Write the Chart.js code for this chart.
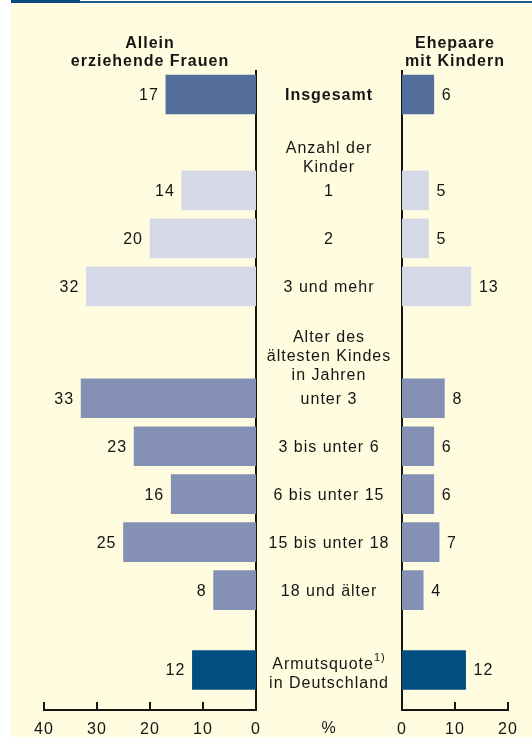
<!DOCTYPE html>
<html lang="de">
<head>
<meta charset="utf-8">
<title>Armutsquoten von Familien</title>
<script src="https://cdn.jsdelivr.net/npm/chart.js@4.4.1/dist/chart.umd.min.js"></script>
<style>
  html, body { margin: 0; padding: 0; background: #fff; overflow: hidden; }
  #seite { position: relative; width: 532px; height: 737px; overflow: hidden; }
  #flaeche { position: absolute; left: 11px; top: 4px; right: 0; bottom: 0; background: #fffcdf; }
  #balken { position: absolute; left: 11px; top: 0; width: 69px; height: 3px; background: #0b4b7b; }
  #linie { position: absolute; left: 80px; top: 1px; right: 0; height: 2px; background: #1d5886; }
  canvas { position: absolute; top: 0; }
  #links { left: 0; }
  #rechts { left: 250px; }
</style>
</head>
<body>
<div id="seite">
  <div id="flaeche"></div>
  <div id="balken"></div>
  <div id="linie"></div>
  <canvas id="links" width="280" height="751"></canvas>
  <canvas id="rechts" width="282" height="751"></canvas>
</div>
<script>
// Daten
const kategorien = ["Insgesamt", "1", "2", "3 und mehr", "unter 3", "3 bis unter 6",
                    "6 bis unter 15", "15 bis unter 18", "18 und älter", "Armutsquote\nin Deutschland"];
const gruppen = ["gesamt", "kinder", "kinder", "kinder", "alter", "alter", "alter", "alter", "alter", "armut"];
const alleinErziehende = [17, 14, 20, 32, 33, 23, 16, 25, 8, 12];
const ehepaare = [6, 5, 5, 13, 8, 6, 6, 7, 4, 12];
const ueberschriften = ["", "Anzahl der\nKinder", "", "", "Alter des\nältesten Kindes\nin Jahren", "", "", "", "", ""];
const fussnoten = ["", "", "", "", "", "", "", "", "", "1)"];
const skalaLinks = [0, 10, 20, 30, 40];
const skalaRechts = [0, 10, 20];

// leere Zeilen vor jeder Kategorie (und am Ende)
const leerzeilen = [1, 5, 2, 2, 6, 2, 2, 2, 2, 4, 2];

const FONT = '"Liberation Sans", Arial, sans-serif';
const TEXT = "#151515";
const farben = { gesamt: "#536e9a", kinder: "#d5d8e6", alter: "#8491b4", armut: "#034e81" };
const MITTE = 73;
const TICK_ABSTAND = 10;

const achse = [];
const zeileIndex = [];
kategorien.forEach((k, i) => {
    for (let j = 0; j < leerzeilen[i]; j++) achse.push("");
    zeileIndex.push(achse.length);
    achse.push(k);
});
for (let j = 0; j < leerzeilen[kategorien.length]; j++) achse.push("");

function aufAchse(werte) {
    const out = achse.map(() => null);
    werte.forEach((v, i) => { out[zeileIndex[i]] = v; });
    return out;
}
const balkenFarben = aufAchse(gruppen.map(g => farben[g]));

const abstand = {
    id: "abstand",
    beforeDraw(chart) { chart.ctx.letterSpacing = "1px"; }
};

const teilstriche = {
    id: "teilstriche",
    afterDraw(chart) {
        const x = chart.scales.x, ctx = chart.ctx, yb = chart.chartArea.bottom;
        ctx.save();
        ctx.strokeStyle = TEXT;
        ctx.lineWidth = 2;
        x.ticks.forEach(t => {
            const px = Math.round(x.getPixelForValue(t.value));
            ctx.beginPath();
            ctx.moveTo(px, yb);
            ctx.lineTo(px, yb - 8);
            ctx.stroke();
        });
        ctx.restore();
    }
};

const wertLabels = {
    id: "wertLabels",
    afterDatasetsDraw(chart) {
        const ctx = chart.ctx;
        const links = chart.options.scales.x.reverse;
        const meta = chart.getDatasetMeta(0);
        const daten = chart.data.datasets[0].data;
        ctx.save();
        ctx.font = "16px " + FONT;
        ctx.fillStyle = TEXT;
        ctx.textBaseline = "middle";
        ctx.letterSpacing = "1px";
        ctx.textAlign = links ? "right" : "left";
        meta.data.forEach((bar, i) => {
            if (daten[i] === null) return;
            ctx.fillText(String(daten[i]), links ? bar.x - 7 : bar.x + 8, bar.y + 1);
        });
        ctx.restore();
    }
};

const titel = {
    id: "titel",
    afterDraw(chart, args, opts) {
        const ctx = chart.ctx, a = chart.chartArea;
        ctx.save();
        ctx.font = "bold 16px " + FONT;
        ctx.fillStyle = TEXT;
        ctx.textAlign = "center";
        ctx.textBaseline = "middle";
        ctx.letterSpacing = "1px";
        opts.text.forEach((z, i) => ctx.fillText(z, (a.left + a.right) / 2, a.top - 27 + i * 18));
        ctx.restore();
    }
};

const mitte = {
    id: "mitte",
    afterDraw(chart) {
        const ctx = chart.ctx, y = chart.scales.y;
        const cx = chart.chartArea.left - MITTE;
        ctx.save();
        ctx.fillStyle = TEXT;
        ctx.textAlign = "center";
        ctx.textBaseline = "middle";
        ctx.letterSpacing = "1px";
        kategorien.forEach((k, i) => {
            const py = y.getPixelForValue(zeileIndex[i]);
            const zeilen = k.split("\n");
            ctx.font = (i === 0 ? "bold " : "") + "16px " + FONT;
            const start = zeilen.length > 1 ? py - 5 : py + 1;
            zeilen.forEach((z, j) => {
                const zy = start + j * 19;
                if (j === 0 && fussnoten[i]) {
                    const w = ctx.measureText(z).width;
                    ctx.font = "11px " + FONT;
                    const wf = ctx.measureText(fussnoten[i]).width;
                    const lx = cx - (w + wf) / 2;
                    ctx.textAlign = "left";
                    ctx.fillText(fussnoten[i], lx + w, zy - 7);
                    ctx.font = "16px " + FONT;
                    ctx.fillText(z, lx, zy);
                    ctx.textAlign = "center";
                } else {
                    ctx.fillText(z, cx, zy);
                }
            });
            if (ueberschriften[i]) {
                ctx.font = "16px " + FONT;
                const kopf = ueberschriften[i].split("\n");
                kopf.forEach((z, j) => ctx.fillText(z, cx, py - 23 - (kopf.length - 1 - j) * 19));
            }
        });
        ctx.font = "16px " + FONT;
        ctx.fillText("%", cx, chart.chartArea.bottom + TICK_ABSTAND + 9);
        ctx.restore();
    }
};

function optionen(links) {
    return {
        indexAxis: "y",
        responsive: false,
        animation: false,
        devicePixelRatio: 1,
        layout: { padding: { left: links ? 44 : 152, right: 24, top: 70.5, bottom: 1.8 } },
        plugins: {
            legend: { display: false },
            tooltip: { enabled: false },
            titel: { text: links ? ["Allein", "erziehende Frauen"] : ["Ehepaare", "mit Kindern"] }
        },
        scales: {
            x: {
                type: "linear",
                reverse: links,
                min: 0,
                max: links ? 40 : 20,
                afterBuildTicks: s => { s.ticks = (links ? skalaLinks : skalaRechts).map(v => ({ value: v })); },
                grid: { display: false, drawTicks: false },
                border: { display: true, color: TEXT, width: 2 },
                ticks: { color: TEXT, padding: TICK_ABSTAND, maxRotation: 0, font: { family: FONT, size: 16 } }
            },
            y: {
                position: links ? "right" : "left",
                offset: true,
                z: 1,
                grid: { display: false, drawTicks: false },
                border: { display: true, color: TEXT, width: 2 },
                ticks: { display: false }
            }
        }
    };
}

new Chart(document.getElementById("links"), {
    type: "bar",
    data: {
        labels: achse,
        datasets: [{ data: aufAchse(alleinErziehende), backgroundColor: balkenFarben, barThickness: 39, borderWidth: 0 }]
    },
    options: optionen(true),
    plugins: [abstand, wertLabels, teilstriche, titel]
});

new Chart(document.getElementById("rechts"), {
    type: "bar",
    data: {
        labels: achse,
        datasets: [{ data: aufAchse(ehepaare), backgroundColor: balkenFarben, barThickness: 39, borderWidth: 0 }]
    },
    options: optionen(false),
    plugins: [abstand, wertLabels, teilstriche, titel, mitte]
});
</script>
</body>
</html>
